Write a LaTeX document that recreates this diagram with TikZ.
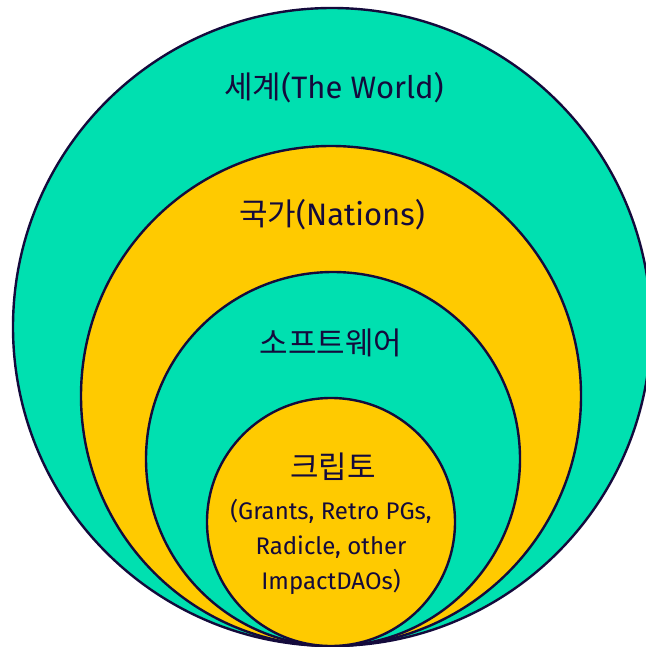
\documentclass[tikz,border=0pt]{standalone}
\usepackage{fontspec}
\setmainfont{Fira Sans}
\newfontfamily\kr{Noto Sans CJK KR}
\definecolor{ringTeal}{HTML}{00E0B0}
\definecolor{ringGold}{HTML}{FFCA00}
\definecolor{inkNavy}{HTML}{140A3C}
\begin{document}
\begin{tikzpicture}[x=1pt, y=-1pt,
    ring/.style={circle, draw=inkNavy, line width=2.4pt, inner sep=0pt},
    tag/.style={text=inkNavy, inner sep=0pt, font=\fontsize{31}{34}\selectfont}]
    \useasboundingbox (0,0) rectangle (645,647);

    % 1. 동심원 (바닥에서 접함)
    \node[ring, fill=ringTeal, minimum size=638pt] (world) at (332,327) {};
    \node[ring, fill=ringGold, minimum size=500pt] (nations) at (331,396) {};
    \node[ring, fill=ringTeal, minimum size=374pt] (software) at (333,459) {};
    \node[ring, fill=ringGold, minimum size=248pt] (crypto) at (331,522) {};

    % 2. 라벨
    \node[tag] (worldText) at (334,88) {{\kr 세계}(The World)};
    \node[tag] (nationsText) at (332,215) {{\kr 국가}(Nations)};
    \node[tag] (softwareText) at (331,343) {\kr 소프트웨어};
    \node[tag] (cryptoText) at (333,467) {\kr 크립토};
    \node[tag, align=center, font=\fontsize{24}{35}\selectfont] (cryptoNote) at (331,547)
        {(Grants, Retro PGs,\\Radicle, other\\ImpactDAOs)};
\end{tikzpicture}
\end{document}
